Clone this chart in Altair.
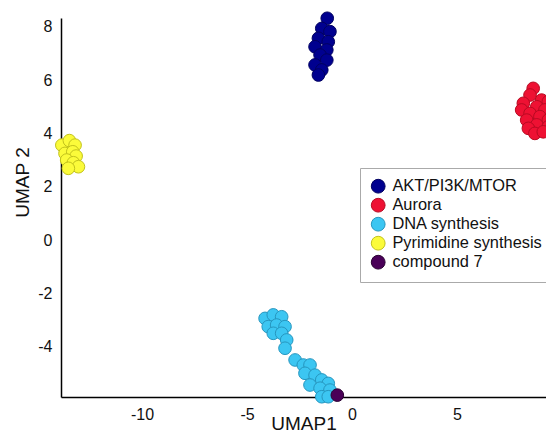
import altair as alt
import pandas as pd

groups = ["AKT/PI3K/MTOR", "Aurora", "DNA synthesis", "Pyrimidine synthesis", "compound 7"]
fill_colors = ["#00008f", "#ee1133", "#3cc6f2", "#fbfb3a", "#4a0058"]
stroke_colors = ["#000060", "#b80a22", "#2696bf", "#c2c21c", "#2a0032"]

akt_x = [-1.18, -1.44, -1.05, -1.60, -1.13, -1.76, -1.20, -1.52, -1.20, -1.76, -1.44, -1.60]
akt_y = [8.32, 7.94, 7.82, 7.57, 7.44, 7.25, 7.13, 6.94, 6.75, 6.57, 6.38, 6.19]

aur_x = [8.63, 8.48, 9.03, 9.35, 8.16, 8.80, 9.19, 8.08, 8.48, 8.95, 8.32, 9.35, 8.80, 9.35, 8.40, 8.71, 9.11]
aur_y = [5.69, 5.44, 5.25, 5.19, 5.13, 5.00, 4.88, 4.88, 4.75, 4.63, 4.50, 4.50, 4.32, 4.25, 4.19, 4.00, 4.06]

dna_x = [-4.14, -3.75, -3.35, -3.99, -3.59, -3.19, -3.75, -3.35, -3.11, -3.19, -2.71,
         -2.32, -2.00, -2.24, -1.76, -1.44, -2.00, -1.13, -1.52, -1.05, -1.44, -1.13]
dna_y = [-2.94, -2.81, -2.88, -3.25, -3.19, -3.25, -3.50, -3.50, -3.75, -4.06, -4.50,
         -4.69, -4.69, -5.00, -5.07, -5.25, -5.44, -5.38, -5.56, -5.63, -5.88, -5.88]

pyr_x = [-13.82, -13.46, -13.19, -13.67, -13.30, -13.14, -13.59, -13.27, -13.03, -13.51]
pyr_y = [3.56, 3.73, 3.56, 3.25, 3.31, 3.15, 3.00, 2.90, 2.75, 2.69]

cmp_x = [-0.70]
cmp_y = [-5.82]

x_ticks = [-10, -5, 0, 5]
y_ticks = [-4, -2, 0, 2, 4, 6, 8]

rows = []
for g, xs, ys in zip(groups, [akt_x, aur_x, dna_x, pyr_x, cmp_x], [akt_y, aur_y, dna_y, pyr_y, cmp_y]):
    for a, b in zip(xs, ys):
        rows.append({"group": g, "x": a, "y": b})
df = pd.DataFrame(rows)

FONT = "Liberation Sans"

legend = alt.Legend(
    orient="none", legendX=299, legendY=150,
    fillColor="white", strokeColor="#aaaaaa", padding=10,
    labelFontSize=16.4, labelFont=FONT, labelColor="#111111",
    symbolType="circle", symbolSize=190, symbolStrokeWidth=1,
    rowPadding=0, labelOffset=6, labelLimit=400,
)

chart = alt.Chart(df).mark_point(filled=True, opacity=1, size=160, strokeWidth=1).encode(
    x=alt.X("x:Q", scale=alt.Scale(domain=[-13.86, 9.24], nice=False, zero=False),
            axis=alt.Axis(values=x_ticks, title="UMAP1", titleY=17, titleBaseline="top",
                          labelExpr="datum.value + ''")),
    y=alt.Y("y:Q", scale=alt.Scale(domain=[-5.89, 8.33], nice=False, zero=False),
            axis=alt.Axis(values=y_ticks, title="UMAP 2", titleY=164, titlePadding=5,
                          labelExpr="datum.value + ''")),
    fill=alt.Fill("group:N", scale=alt.Scale(domain=groups, range=fill_colors), legend=legend, title=None),
    stroke=alt.Stroke("group:N", scale=alt.Scale(domain=groups, range=stroke_colors), legend=legend, title=None),
).properties(
    width=485, height=379,
    autosize=alt.AutoSizeParams(type="none"),
    padding={"left": 53, "top": 10, "right": 0, "bottom": 46},
).configure_view(stroke=None).configure_axis(
    grid=False, ticks=False, tickSize=0, domainColor="#000000", domainWidth=1.5,
    labelFont=FONT, labelFontSize=16, labelColor="#111111", labelPadding=9,
    titleFont=FONT, titleFontSize=19, titleFontWeight="normal", titleColor="#111111",
)

chart.save("out.html", embed_options={"renderer": "svg", "actions": False})
